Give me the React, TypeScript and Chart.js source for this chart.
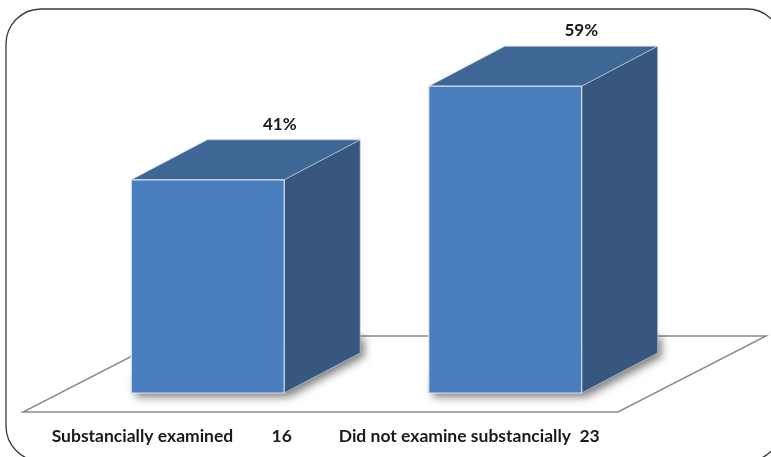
import React, { useEffect, useRef } from "react";
import { Chart, registerables } from "chart.js";

Chart.register(...registerables);

// ---- data ----
const categories = ["Substancially examined", "Did not examine substancially"];
const counts = [16, 23];
const percents = [41, 59];
const tickLabels = ["Substancially examined         16", "Did not examine substancially  23"];
const valueLabels = ["41%", "59%"];

// ---- style constants ----
const W = 771;
const H = 457;
const DEPTH_X = 76;
const DEPTH_Y = 40;
const FLOOR_FRONT_DX = 36;
const FLOOR_FRONT_DY = 19;
const FLOOR_BACK_DX = 112;
const FLOOR_BACK_DY = 57;
const FRONT = "#4A7EBE";
const TOP = "#3E6796";
const SIDE = "#37577F";
const EDGE = "rgba(225,232,242,0.95)";
const FONT = "Lato, 'DejaVu Sans Condensed', sans-serif";

const bar3dPlugin = {
  id: "bar3d",
  beforeDatasetsDraw(chart: any) {
    const ctx = chart.ctx as CanvasRenderingContext2D;
    const area = chart.chartArea;
    const base = chart.scales.y.getPixelForValue(0);

    // outer rounded border
    ctx.save();
    const bx = 6, by = 9, bw = 776, bh = 452, r = 35;
    ctx.beginPath();
    ctx.moveTo(bx + r, by);
    ctx.lineTo(bx + bw - r, by);
    ctx.arcTo(bx + bw, by, bx + bw, by + r, r);
    ctx.lineTo(bx + bw, by + bh - r);
    ctx.arcTo(bx + bw, by + bh, bx + bw - r, by + bh, r);
    ctx.lineTo(bx + r, by + bh);
    ctx.arcTo(bx, by + bh, bx, by + bh - r, r);
    ctx.lineTo(bx, by + r);
    ctx.arcTo(bx, by, bx + r, by, r);
    ctx.closePath();
    ctx.strokeStyle = "#3a3a3a";
    ctx.lineWidth = 1.3;
    ctx.stroke();
    ctx.restore();

    // floor
    ctx.save();
    ctx.beginPath();
    ctx.moveTo(area.left - FLOOR_FRONT_DX, base + FLOOR_FRONT_DY);
    ctx.lineTo(area.right - FLOOR_FRONT_DX, base + FLOOR_FRONT_DY);
    ctx.lineTo(area.right + FLOOR_BACK_DX, base - FLOOR_BACK_DY);
    ctx.lineTo(area.left + FLOOR_BACK_DX, base - FLOOR_BACK_DY);
    ctx.closePath();
    ctx.fillStyle = "#ffffff";
    ctx.fill();
    ctx.strokeStyle = "#8c8c8c";
    ctx.lineWidth = 1.5;
    ctx.stroke();
    ctx.restore();

    const meta = chart.getDatasetMeta(0);
    meta.data.forEach((el: any, i: number) => {
      const x0 = el.x - el.width / 2;
      const x1 = el.x + el.width / 2;
      const top = el.y;
      const bottom = el.base;

      // shadow
      ctx.save();
      ctx.shadowColor = "rgba(0,0,0,0.5)";
      ctx.shadowBlur = 8;
      ctx.shadowOffsetX = 4;
      ctx.shadowOffsetY = 4;
      ctx.beginPath();
      ctx.moveTo(x0, bottom);
      ctx.lineTo(x1, bottom);
      ctx.lineTo(x1 + DEPTH_X, bottom - DEPTH_Y);
      ctx.lineTo(x1 + DEPTH_X, bottom - DEPTH_Y - 20);
      ctx.lineTo(x0, bottom - 20);
      ctx.closePath();
      ctx.fillStyle = SIDE;
      ctx.fill();
      ctx.restore();

      ctx.save();
      ctx.lineJoin = "round";
      // side
      ctx.beginPath();
      ctx.moveTo(x1, top);
      ctx.lineTo(x1 + DEPTH_X, top - DEPTH_Y);
      ctx.lineTo(x1 + DEPTH_X, bottom - DEPTH_Y);
      ctx.lineTo(x1, bottom);
      ctx.closePath();
      ctx.fillStyle = SIDE;
      ctx.fill();
      // top
      ctx.beginPath();
      ctx.moveTo(x0, top);
      ctx.lineTo(x1, top);
      ctx.lineTo(x1 + DEPTH_X, top - DEPTH_Y);
      ctx.lineTo(x0 + DEPTH_X, top - DEPTH_Y);
      ctx.closePath();
      ctx.fillStyle = TOP;
      ctx.fill();
      // front
      ctx.fillStyle = FRONT;
      ctx.fillRect(x0, top, x1 - x0, bottom - top);

      // edges
      ctx.strokeStyle = EDGE;
      ctx.lineWidth = 1.2;
      ctx.strokeRect(x0, top, x1 - x0, bottom - top);
      ctx.beginPath();
      ctx.moveTo(x0, top);
      ctx.lineTo(x0 + DEPTH_X, top - DEPTH_Y);
      ctx.lineTo(x1 + DEPTH_X, top - DEPTH_Y);
      ctx.lineTo(x1, top);
      ctx.moveTo(x1 + DEPTH_X, top - DEPTH_Y);
      ctx.lineTo(x1 + DEPTH_X, bottom - DEPTH_Y);
      ctx.lineTo(x1, bottom);
      ctx.strokeStyle = "rgba(200,212,230,0.7)";
      ctx.lineWidth = 1;
      ctx.stroke();
      ctx.restore();

      // value label
      ctx.save();
      ctx.fillStyle = "#1a1a1a";
      ctx.font = `bold 17px ${FONT}`;
      ctx.textAlign = "center";
      ctx.textBaseline = "alphabetic";
      ctx.fillText(valueLabels[i], el.x + DEPTH_X - (i === 0 ? 4 : 0), top - DEPTH_Y - 10);
      ctx.restore();

      // category label
      ctx.save();
      ctx.fillStyle = "#1a1a1a";
      ctx.font = `bold 17.5px ${FONT}`;
      ctx.textAlign = "center";
      ctx.textBaseline = "alphabetic";
      ctx.fillText(tickLabels[i], el.x - FLOOR_FRONT_DX, 442);
      ctx.restore();
    });
  },
};

export default function App() {
  const ref = useRef<HTMLCanvasElement | null>(null);
  useEffect(() => {
    if (!ref.current) return;
    const chart = new Chart(ref.current, {
      type: "bar",
      data: {
        labels: categories,
        datasets: [
          {
            label: "Count " + counts.join("/"),
            data: percents,
            backgroundColor: "rgba(0,0,0,0)",
            borderWidth: 0,
            barPercentage: 0.514,
            categoryPercentage: 1,
          },
        ],
      },
      options: {
        responsive: false,
        animation: false,
        layout: { padding: { left: 59, right: 117, top: 55, bottom: 64 } },
        plugins: { legend: { display: false }, tooltip: { enabled: false } },
        scales: {
          x: { display: false },
          y: { display: false, min: 0, max: 65 },
        },
      },
      plugins: [bar3dPlugin],
    });
    return () => chart.destroy();
  }, []);
  return (
    <div style={{ position: "absolute", left: 0, top: 0, width: W, height: H, background: "#fff" }}>
      <canvas ref={ref} width={W} height={H} style={{ display: "block" }} />
    </div>
  );
}
